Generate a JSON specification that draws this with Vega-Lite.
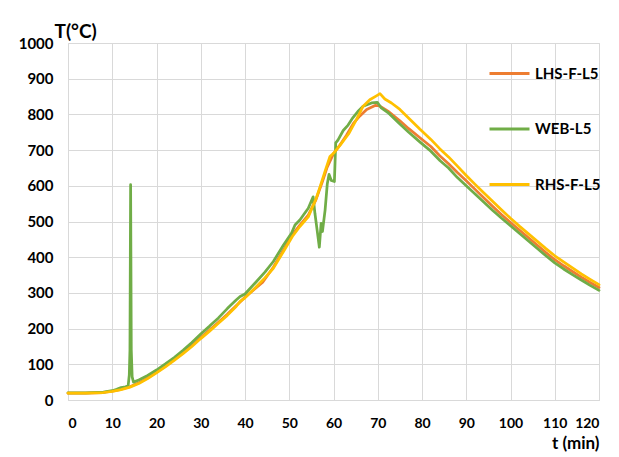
{
  "$schema": "https://vega.github.io/schema/vega-lite/v6.json",
  "width": 531,
  "height": 357,
  "autosize": {"type": "none"},
  "padding": {"left": 68, "top": 43, "right": 20, "bottom": 57},
  "background": "white",
  "config": {
    "view": {"stroke": "#d9d9d9", "strokeWidth": 1},
    "font": "Lato"
  },
  "data": {
    "values": [
      {"s":"LHS-F-L5","t":0,"T":19},{"s":"LHS-F-L5","t":4,"T":19},{"s":"LHS-F-L5","t":8,"T":21},{"s":"LHS-F-L5","t":10,"T":25},{"s":"LHS-F-L5","t":12,"T":30},{"s":"LHS-F-L5","t":14,"T":37},{"s":"LHS-F-L5","t":16,"T":48},{"s":"LHS-F-L5","t":18,"T":62},{"s":"LHS-F-L5","t":20,"T":78},{"s":"LHS-F-L5","t":22,"T":95},{"s":"LHS-F-L5","t":24,"T":113},{"s":"LHS-F-L5","t":26,"T":132},{"s":"LHS-F-L5","t":28,"T":153},{"s":"LHS-F-L5","t":30,"T":175},{"s":"LHS-F-L5","t":32,"T":196},{"s":"LHS-F-L5","t":34,"T":218},{"s":"LHS-F-L5","t":36,"T":240},{"s":"LHS-F-L5","t":38,"T":264},{"s":"LHS-F-L5","t":40,"T":288},{"s":"LHS-F-L5","t":42,"T":309},{"s":"LHS-F-L5","t":44,"T":330},{"s":"LHS-F-L5","t":46.4,"T":372},{"s":"LHS-F-L5","t":48.7,"T":420},{"s":"LHS-F-L5","t":50.5,"T":460},{"s":"LHS-F-L5","t":52.4,"T":490},{"s":"LHS-F-L5","t":54.3,"T":518},{"s":"LHS-F-L5","t":56,"T":560},{"s":"LHS-F-L5","t":57.5,"T":612},{"s":"LHS-F-L5","t":58.5,"T":650},{"s":"LHS-F-L5","t":60,"T":690},{"s":"LHS-F-L5","t":61.5,"T":715},{"s":"LHS-F-L5","t":62.9,"T":741},{"s":"LHS-F-L5","t":64.5,"T":775},{"s":"LHS-F-L5","t":65.9,"T":795},{"s":"LHS-F-L5","t":67.5,"T":814},{"s":"LHS-F-L5","t":69.4,"T":825},{"s":"LHS-F-L5","t":70.4,"T":824},{"s":"LHS-F-L5","t":72.3,"T":809},{"s":"LHS-F-L5","t":75,"T":782},{"s":"LHS-F-L5","t":77,"T":760},{"s":"LHS-F-L5","t":79.4,"T":736},{"s":"LHS-F-L5","t":82,"T":710},{"s":"LHS-F-L5","t":84,"T":684},{"s":"LHS-F-L5","t":86,"T":662},{"s":"LHS-F-L5","t":88,"T":637},{"s":"LHS-F-L5","t":90,"T":614},{"s":"LHS-F-L5","t":92,"T":590},{"s":"LHS-F-L5","t":94,"T":566},{"s":"LHS-F-L5","t":96,"T":542},{"s":"LHS-F-L5","t":98,"T":519},{"s":"LHS-F-L5","t":100,"T":497},{"s":"LHS-F-L5","t":102,"T":476},{"s":"LHS-F-L5","t":104,"T":455},{"s":"LHS-F-L5","t":106,"T":434},{"s":"LHS-F-L5","t":108,"T":413},{"s":"LHS-F-L5","t":110,"T":393},{"s":"LHS-F-L5","t":112,"T":376},{"s":"LHS-F-L5","t":114,"T":360},{"s":"LHS-F-L5","t":116,"T":344},{"s":"LHS-F-L5","t":118,"T":329},{"s":"LHS-F-L5","t":120,"T":315},

      {"s":"WEB-L5","t":0,"T":20},{"s":"WEB-L5","t":4,"T":20},{"s":"WEB-L5","t":8,"T":22},{"s":"WEB-L5","t":10,"T":26},{"s":"WEB-L5","t":11,"T":30},{"s":"WEB-L5","t":12,"T":35},{"s":"WEB-L5","t":13,"T":37},{"s":"WEB-L5","t":13.6,"T":40},{"s":"WEB-L5","t":13.85,"T":70},{"s":"WEB-L5","t":14.0,"T":140},{"s":"WEB-L5","t":14.15,"T":603},{"s":"WEB-L5","t":14.3,"T":140},{"s":"WEB-L5","t":14.5,"T":65},{"s":"WEB-L5","t":14.8,"T":50},{"s":"WEB-L5","t":16,"T":56},{"s":"WEB-L5","t":18,"T":69},{"s":"WEB-L5","t":20,"T":84},{"s":"WEB-L5","t":22,"T":101},{"s":"WEB-L5","t":24,"T":119},{"s":"WEB-L5","t":26,"T":139},{"s":"WEB-L5","t":28,"T":161},{"s":"WEB-L5","t":30,"T":185},{"s":"WEB-L5","t":32,"T":207},{"s":"WEB-L5","t":34,"T":230},{"s":"WEB-L5","t":36,"T":256},{"s":"WEB-L5","t":38,"T":280},{"s":"WEB-L5","t":38.9,"T":290},{"s":"WEB-L5","t":40,"T":297},{"s":"WEB-L5","t":42.6,"T":332},{"s":"WEB-L5","t":44.5,"T":358},{"s":"WEB-L5","t":46.4,"T":388},{"s":"WEB-L5","t":48.7,"T":434},{"s":"WEB-L5","t":50.5,"T":467},{"s":"WEB-L5","t":51.3,"T":490},{"s":"WEB-L5","t":52.4,"T":504},{"s":"WEB-L5","t":53.2,"T":518},{"s":"WEB-L5","t":54.3,"T":537},{"s":"WEB-L5","t":55.4,"T":569},{"s":"WEB-L5","t":55.8,"T":523},{"s":"WEB-L5","t":56.3,"T":476},{"s":"WEB-L5","t":56.8,"T":428},{"s":"WEB-L5","t":57.2,"T":495},{"s":"WEB-L5","t":57.5,"T":472},{"s":"WEB-L5","t":58.1,"T":532},{"s":"WEB-L5","t":58.6,"T":606},{"s":"WEB-L5","t":59.0,"T":632},{"s":"WEB-L5","t":59.5,"T":615},{"s":"WEB-L5","t":60.2,"T":612},{"s":"WEB-L5","t":60.5,"T":720},{"s":"WEB-L5","t":61.0,"T":728},{"s":"WEB-L5","t":62.2,"T":755},{"s":"WEB-L5","t":63.3,"T":770},{"s":"WEB-L5","t":64.4,"T":791},{"s":"WEB-L5","t":65.5,"T":808},{"s":"WEB-L5","t":66.7,"T":823},{"s":"WEB-L5","t":68.6,"T":832},{"s":"WEB-L5","t":69.9,"T":834},{"s":"WEB-L5","t":70.8,"T":818},{"s":"WEB-L5","t":72.3,"T":805},{"s":"WEB-L5","t":75,"T":773},{"s":"WEB-L5","t":77,"T":750},{"s":"WEB-L5","t":79.5,"T":723},{"s":"WEB-L5","t":82,"T":697},{"s":"WEB-L5","t":84.1,"T":670},{"s":"WEB-L5","t":86,"T":650},{"s":"WEB-L5","t":88,"T":623},{"s":"WEB-L5","t":90,"T":600},{"s":"WEB-L5","t":92,"T":577},{"s":"WEB-L5","t":94,"T":554},{"s":"WEB-L5","t":96,"T":531},{"s":"WEB-L5","t":98,"T":509},{"s":"WEB-L5","t":100,"T":488},{"s":"WEB-L5","t":102,"T":467},{"s":"WEB-L5","t":104,"T":446},{"s":"WEB-L5","t":106,"T":425},{"s":"WEB-L5","t":108,"T":404},{"s":"WEB-L5","t":110,"T":384},{"s":"WEB-L5","t":112,"T":367},{"s":"WEB-L5","t":114,"T":351},{"s":"WEB-L5","t":116,"T":336},{"s":"WEB-L5","t":118,"T":321},{"s":"WEB-L5","t":120,"T":307},

      {"s":"RHS-F-L5","t":0,"T":19},{"s":"RHS-F-L5","t":4,"T":19},{"s":"RHS-F-L5","t":8,"T":21},{"s":"RHS-F-L5","t":10,"T":24},{"s":"RHS-F-L5","t":12,"T":29},{"s":"RHS-F-L5","t":14,"T":36},{"s":"RHS-F-L5","t":16,"T":46},{"s":"RHS-F-L5","t":18,"T":60},{"s":"RHS-F-L5","t":20,"T":76},{"s":"RHS-F-L5","t":22,"T":93},{"s":"RHS-F-L5","t":24,"T":111},{"s":"RHS-F-L5","t":26,"T":130},{"s":"RHS-F-L5","t":28,"T":150},{"s":"RHS-F-L5","t":30,"T":172},{"s":"RHS-F-L5","t":32,"T":193},{"s":"RHS-F-L5","t":34,"T":215},{"s":"RHS-F-L5","t":36,"T":237},{"s":"RHS-F-L5","t":38,"T":262},{"s":"RHS-F-L5","t":38.9,"T":276},{"s":"RHS-F-L5","t":40,"T":286},{"s":"RHS-F-L5","t":42.6,"T":318},{"s":"RHS-F-L5","t":44.5,"T":342},{"s":"RHS-F-L5","t":46.4,"T":369},{"s":"RHS-F-L5","t":48.7,"T":416},{"s":"RHS-F-L5","t":50.7,"T":458},{"s":"RHS-F-L5","t":52.4,"T":486},{"s":"RHS-F-L5","t":54.3,"T":513},{"s":"RHS-F-L5","t":56.1,"T":565},{"s":"RHS-F-L5","t":56.9,"T":595},{"s":"RHS-F-L5","t":58.1,"T":641},{"s":"RHS-F-L5","t":59.2,"T":682},{"s":"RHS-F-L5","t":60.0,"T":691},{"s":"RHS-F-L5","t":61.5,"T":714},{"s":"RHS-F-L5","t":63.4,"T":745},{"s":"RHS-F-L5","t":65.2,"T":786},{"s":"RHS-F-L5","t":66.7,"T":823},{"s":"RHS-F-L5","t":68.2,"T":841},{"s":"RHS-F-L5","t":69.7,"T":852},{"s":"RHS-F-L5","t":70.5,"T":858},{"s":"RHS-F-L5","t":71.6,"T":843},{"s":"RHS-F-L5","t":73.1,"T":832},{"s":"RHS-F-L5","t":75,"T":814},{"s":"RHS-F-L5","t":77.3,"T":786},{"s":"RHS-F-L5","t":79.5,"T":759},{"s":"RHS-F-L5","t":82,"T":730},{"s":"RHS-F-L5","t":84,"T":704},{"s":"RHS-F-L5","t":86,"T":681},{"s":"RHS-F-L5","t":88,"T":655},{"s":"RHS-F-L5","t":90,"T":629},{"s":"RHS-F-L5","t":92,"T":604},{"s":"RHS-F-L5","t":94,"T":580},{"s":"RHS-F-L5","t":96,"T":556},{"s":"RHS-F-L5","t":98,"T":532},{"s":"RHS-F-L5","t":100,"T":509},{"s":"RHS-F-L5","t":102,"T":487},{"s":"RHS-F-L5","t":104,"T":466},{"s":"RHS-F-L5","t":106,"T":445},{"s":"RHS-F-L5","t":108,"T":424},{"s":"RHS-F-L5","t":110,"T":404},{"s":"RHS-F-L5","t":112,"T":387},{"s":"RHS-F-L5","t":114,"T":370},{"s":"RHS-F-L5","t":116,"T":353},{"s":"RHS-F-L5","t":118,"T":338},{"s":"RHS-F-L5","t":120,"T":323}
    ]
  },
  "mark": {"type": "line", "strokeWidth": 2.75, "strokeJoin": "round", "strokeCap": "round"},
  "encoding": {
    "x": {
      "field": "t", "type": "quantitative",
      "scale": {"domain": [0, 120], "nice": false, "zero": false},
      "axis": {
        "values": [0,10,20,30,40,50,60,70,80,90,100,110,120],
        "format": "d",
        "title": "t (min)",
        "titleFontSize": 17, "titleFontWeight": "bold", "titleColor": "black",
        "titleAnchor": "end", "titleAlign": "right", "titleX": 531, "titleY": 48, "titleBaseline": "alphabetic",
        "labelFontSize": 14, "labelFontWeight": "bold", "labelColor": "black", "labelPadding": 16,
        "labelBaseline": "top",
        "ticks": false, "domainColor": "#d9d9d9", "domainWidth": 1,
        "grid": true, "gridColor": "#d9d9d9", "gridWidth": 1
      }
    },
    "y": {
      "field": "T", "type": "quantitative",
      "scale": {"domain": [0, 1000], "nice": false},
      "axis": {
        "values": [0,100,200,300,400,500,600,700,800,900,1000],
        "format": "d",
        "title": "T(°C)",
        "titleFontSize": 19, "titleFontWeight": "bold", "titleColor": "black",
        "titleAngle": 0, "titleAlign": "left", "titleBaseline": "alphabetic", "titleX": -14, "titleY": -6,
        "labelFontSize": 15, "labelFontWeight": "bold", "labelColor": "black", "labelPadding": 15,
        "ticks": false, "domain": false,
        "grid": true, "gridColor": "#d9d9d9", "gridWidth": 1
      }
    },
    "color": {
      "field": "s", "type": "nominal",
      "scale": {"domain": ["LHS-F-L5", "WEB-L5", "RHS-F-L5"], "range": ["#ED7D31", "#70AD47", "#FFC000"]},
      "legend": {
        "title": null, "orient": "none", "legendX": 420, "legendY": 9,
        "symbolType": "stroke", "symbolSize": 1600, "symbolStrokeWidth": 3,
        "labelFontSize": 15, "labelFontWeight": "bold", "labelColor": "black", "labelOffset": 4,
        "rowPadding": 25.5
      }
    }
  }
}
